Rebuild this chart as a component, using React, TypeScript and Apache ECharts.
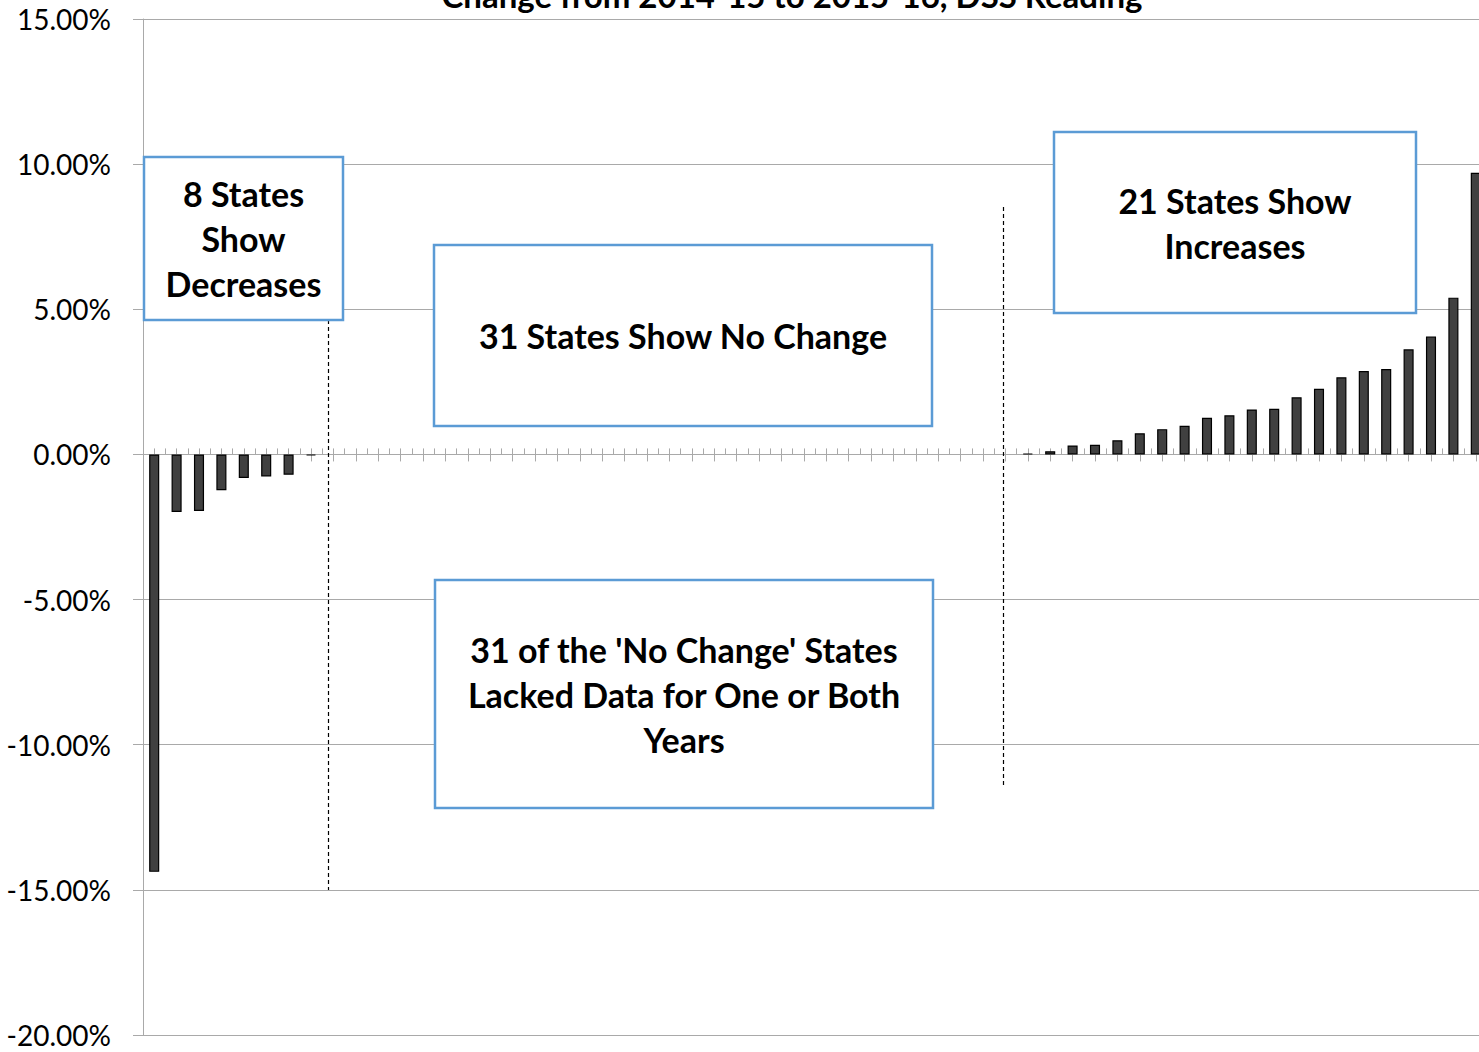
import React, { useEffect, useRef } from "react";
import * as echarts from "echarts";

// Change from 2014-15 to 2015-16 (percent), sorted
const decreases: number[] = [-14.38, -1.98, -1.95, -1.23, -0.81, -0.76, -0.7, -0.04];
const noChange: number[] = [
  0, 0, 0, 0, 0, 0, 0, 0, 0, 0,
  0, 0, 0, 0, 0, 0, 0, 0, 0, 0,
  0, 0, 0, 0, 0, 0, 0, 0, 0, 0,
  0,
];
const increases: number[] = [
  0.03, 0.11, 0.31, 0.33, 0.49, 0.73, 0.87, 0.99, 1.26, 1.35, 1.55,
  1.57, 1.97, 2.26, 2.66, 2.87, 2.94, 3.62, 4.06, 5.4, 9.7,
];
const values: number[] = [...decreases, ...noChange, ...increases];
const categories: string[] = values.map((_, i) => `State ${i + 1}`);

const yMin = -20;
const yMax = 15;
const yInterval = 5;

const titleText = "Change from 2014-15 to 2015-16, DSS Reading";
const boxDecrease = "8 States\nShow\nDecreases";
const boxNoChange = "31 States Show No Change";
const boxIncrease = "21 States Show\nIncreases";
const boxLacked = "31 of the 'No Change' States\nLacked Data for One or Both\nYears";

const GRAY = "#a9a9a9";
const BLUE = "#5b9bd5";
const FONT = "Lato, 'Open Sans', sans-serif";

function box(x: number, y: number, w: number, h: number, text: string) {
  return {
    type: "group",
    z: 100,
    children: [
      {
        type: "rect",
        shape: { x, y, width: w, height: h },
        style: { fill: "#ffffff", stroke: BLUE, lineWidth: 2.5 },
        z: 100,
      },
      {
        type: "text",
        x: x + w / 2,
        y: y + h / 2,
        z: 101,
        style: {
          text,
          fill: "#000",
          fontWeight: "bold",
          fontSize: 34,
          fontFamily: FONT,
          lineHeight: 45,
          align: "center",
          verticalAlign: "middle",
        },
      },
    ],
  };
}

function dashed(x: number, y1: number, y2: number) {
  return {
    type: "line",
    z: 99,
    shape: { x1: x, y1, x2: x, y2 },
    style: { stroke: "#000", lineWidth: 1.2, lineDash: [4, 3] },
  };
}

export default function App() {
  const ref = useRef<HTMLDivElement>(null);
  useEffect(() => {
    if (!ref.current) return;
    const chart = echarts.init(ref.current, undefined, { renderer: "svg" });
    const baseX = {
      type: "category",
      data: categories,
      position: "bottom",
      axisLabel: { show: false },
      splitLine: { show: false },
    };
    chart.setOption({
      animation: false,
      backgroundColor: "#ffffff",
      grid: { left: 143, right: 13, top: 19, bottom: 17, containLabel: false },
      xAxis: [
        {
          ...baseX,
          axisLine: { show: true, onZero: true, onZeroAxisIndex: 0, lineStyle: { color: GRAY, width: 1 } },
          axisTick: { show: true, inside: true, length: 6, interval: 0, lineStyle: { color: GRAY } },
        },
        {
          ...baseX,
          axisLine: { show: false, onZero: true, onZeroAxisIndex: 0 },
          axisTick: { show: true, inside: true, alignWithLabel: true, length: 6, interval: 0, lineStyle: { color: GRAY } },
        },
        {
          ...baseX,
          axisLine: { show: false, onZero: true, onZeroAxisIndex: 0 },
          axisTick: { show: true, inside: false, alignWithLabel: true, length: 7, interval: 0, lineStyle: { color: GRAY } },
        },
      ],
      yAxis: {
        type: "value",
        min: yMin,
        max: yMax,
        interval: yInterval,
        axisLine: { show: true, lineStyle: { color: GRAY } },
        axisTick: { show: true, length: 10, lineStyle: { color: GRAY } },
        splitLine: { show: true, lineStyle: { color: GRAY, width: 1 } },
        axisLabel: {
          margin: 32,
          color: "#000",
          fontFamily: FONT,
          fontSize: 28,
          formatter: (v: number) => `${v.toFixed(2)}%`,
        },
      },
      series: [
        {
          type: "bar",
          xAxisIndex: 0,
          yAxisIndex: 0,
          barWidth: "45%",
          data: values.map((v) => ({
            value: v,
            itemStyle: v === 0 ? { borderWidth: 0 } : undefined,
          })),
          itemStyle: { color: "#404040", borderColor: "#000", borderWidth: 1.2 },
        },
      ],
      graphic: [
        {
          type: "text",
          x: 792,
          y: -5,
          z: 100,
          style: {
            text: titleText,
            fill: "#000",
            fontFamily: FONT,
            fontWeight: "bold",
            fontSize: 33,
            align: "center",
            verticalAlign: "middle",
          },
        },
        dashed(328.5, 320, 890),
        dashed(1003.5, 207, 787),
        box(144, 157, 199, 163, boxDecrease),
        box(434, 245, 498, 181, boxNoChange),
        box(1054, 132, 362, 181, boxIncrease),
        box(435, 580, 498, 228, boxLacked),
      ],
    });
    return () => chart.dispose();
  }, []);
  return (
    <div style={{ position: "fixed", left: 0, top: 0, width: 1479, height: 1052, overflow: "hidden", background: "#fff" }}>
      <div ref={ref} style={{ width: 1500, height: 1052 }} />
    </div>
  );
}
